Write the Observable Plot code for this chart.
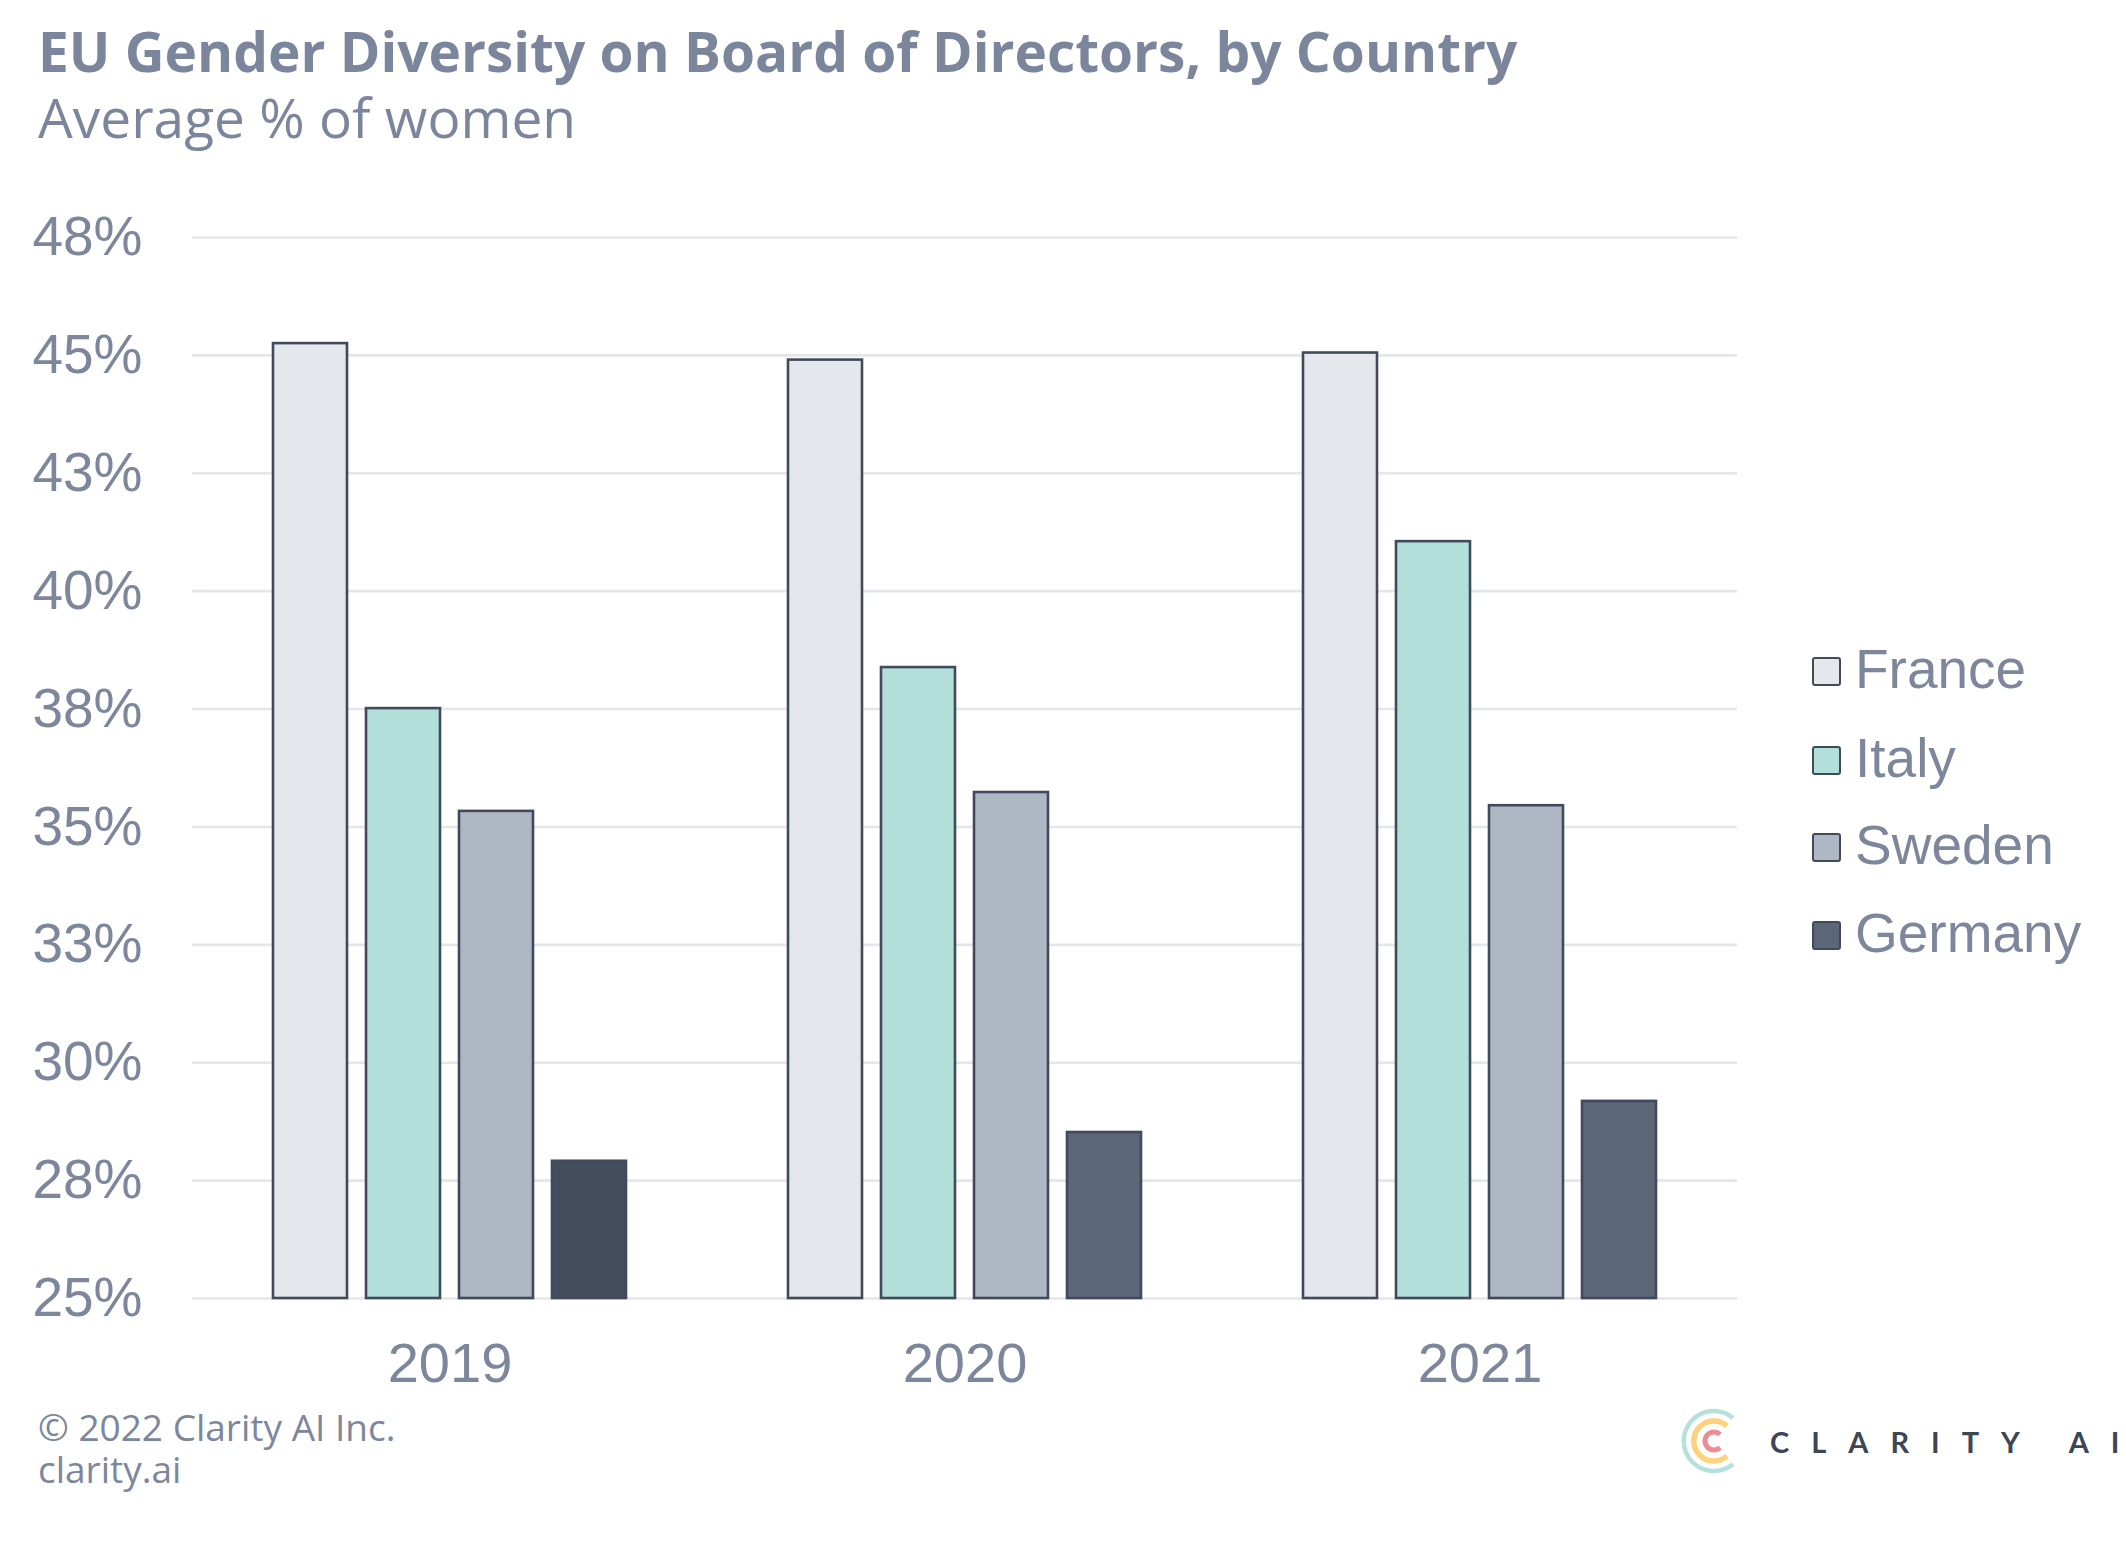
<!DOCTYPE html>
<html><head><meta charset="utf-8">
<script src="https://cdn.jsdelivr.net/npm/d3@7"></script>
<script src="https://cdn.jsdelivr.net/npm/@observablehq/plot@0.6"></script>
<style>
html,body{margin:0;padding:0;background:#fff;}
body{width:2126px;height:1553px;position:relative;overflow:hidden;}
#title{position:absolute;left:38px;top:23px;font-family:"Open Sans",sans-serif;font-weight:700;font-size:55px;line-height:1;color:#7b869c;white-space:nowrap;}
#subtitle{position:absolute;left:38px;top:89px;font-family:"Open Sans",sans-serif;font-weight:400;font-size:55px;line-height:1;color:#7b869c;white-space:nowrap;}
#chart{position:absolute;left:0;top:150px;}
#legend{position:absolute;left:1812px;top:0;}
.lg{position:absolute;left:0;white-space:nowrap;}
.sw{position:absolute;left:0;width:25px;height:25px;border:2.5px solid #414a5b;border-radius:3px;}
.lt{position:absolute;left:43px;font-family:"Liberation Sans",Arial,sans-serif;font-size:55px;line-height:1;color:#7d879c;}
#footer{position:absolute;left:38px;top:1406px;font-family:"Open Sans",sans-serif;font-size:37px;line-height:42px;color:#7d879c;}
#logo{position:absolute;left:1660px;top:1393px;}
</style></head><body>
<div id="title">EU Gender Diversity on Board of Directors, by Country</div>
<div id="subtitle">Average % of women</div>
<div id="chart"></div>
<div id="legend"></div>
<div id="footer">© 2022 Clarity AI Inc.<br>clarity.ai</div>
<svg id="logo" width="466" height="100" viewBox="0 0 466 100">
  <path d="M 73 25 A 30 30 0 1 0 73 71" fill="none" stroke="#b5e1dd" stroke-width="4.5"/>
  <path d="M 67 33 A 20 20 0 1 0 67 63" fill="none" stroke="#fcd27c" stroke-width="5.5"/>
  <path d="M 60.1 41.4 A 9 9 0 1 0 60.1 54.6" fill="none" stroke="#ef8b93" stroke-width="5"/>
  <text x="110" y="60" font-family="Lato, sans-serif" font-weight="700" font-size="29" letter-spacing="22" fill="#3d4657">CLARITY AI</text>
</svg>
<script>
const years = ["2019", "2020", "2021"];
const countries = ["France", "Italy", "Sweden", "Germany"];
const france = [45.25, 44.90, 45.05];
const italy = [37.51, 38.38, 41.05];
const sweden = [35.33, 35.73, 35.45];
const germany = [27.91, 28.52, 29.18];
const yTicks = [25, 27.5, 30, 32.5, 35, 37.5, 40, 42.5, 45, 47.5];
const yTickLabels = ["25%", "28%", "30%", "33%", "35%", "38%", "40%", "43%", "45%", "48%"];

const series = {France: france, Italy: italy, Sweden: sweden, Germany: germany};
const data = years.flatMap((year, i) => countries.map(country => ({year, country, value: series[country][i]})));
const colors = {France: "#e4e7ec", Italy: "#b3dfdb", Sweden: "#b0b7c4", Germany: "#5b6679"};
const highlightFill = "#444d5e";
const yMin = yTicks[0], yMax = yTicks[yTicks.length - 1];

const chart = Plot.plot({
  width: 1760,
  height: 1273,
  marginLeft: 191,
  marginRight: 22,
  marginTop: 87,
  marginBottom: 125,
  fx: {domain: years, paddingInner: 0, paddingOuter: 0, label: null},
  x: {domain: countries, paddingInner: 0.203, paddingOuter: 0.855, axis: null},
  y: {domain: [yMin, yMax]},
  color: {type: "identity"},
  style: {fontFamily: "'Liberation Sans', Arial, sans-serif", background: "transparent", overflow: "visible"},
  marks: [
    Plot.gridY(yTicks, {stroke: "#e4e6eb", strokeOpacity: 1, strokeWidth: 2.6}),
    Plot.axisY(yTicks, {tickSize: 0, tickPadding: 50, tickFormat: d => yTickLabels[yTicks.indexOf(d)], fontSize: 55, color: "#7d879c", label: null}),
    Plot.axisFx({anchor: "bottom", tickSize: 0, tickPadding: 44, fontSize: 56, color: "#7d879c", label: null}),
    Plot.barY(data, {
      fx: "year", x: "country", y1: () => yMin, y2: "value",
      fill: d => (d.country === "Germany" && d.year === "2019") ? highlightFill : colors[d.country],
      stroke: "#414a5b", strokeWidth: 2.6
    })
  ]
});
document.getElementById("chart").appendChild(chart);

const legend = document.getElementById("legend");
const rowTops = [657, 746, 833, 921];
countries.forEach((c, i) => {
  const row = document.createElement("div");
  row.className = "lg";
  row.style.top = rowTops[i] + "px";
  const sw = document.createElement("div");
  sw.className = "sw";
  sw.style.background = colors[c];
  const t = document.createElement("div");
  t.className = "lt";
  t.style.top = "-15px";
  t.textContent = c;
  row.appendChild(sw); row.appendChild(t);
  legend.appendChild(row);
});
</script>
</body></html>
